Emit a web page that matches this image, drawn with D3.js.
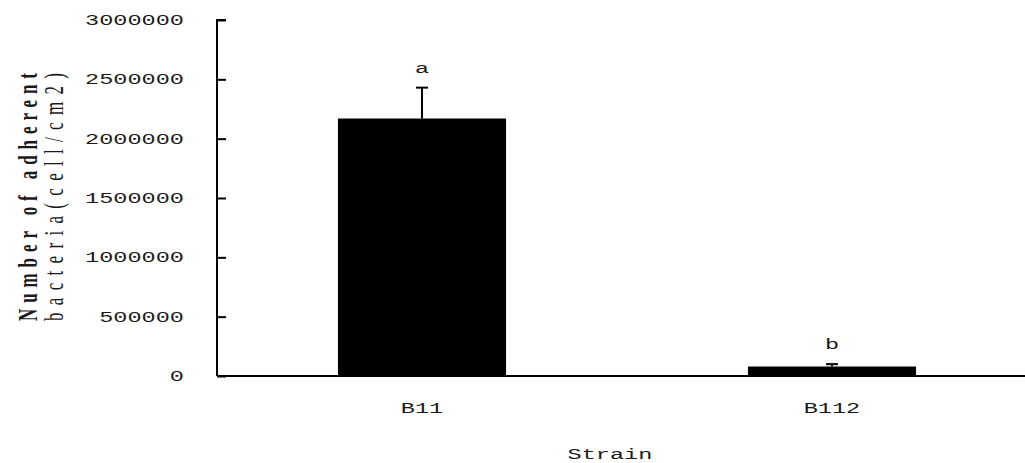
<!DOCTYPE html>
<html>
<head>
<meta charset="utf-8">
<script src="https://cdn.jsdelivr.net/npm/d3@7"></script>
<style>
  html, body { margin: 0; padding: 0; background: #fff; }
  svg { display: block; }
  .mono { font-family: "Liberation Mono", "DejaVu Sans Mono", monospace; fill: #1a1a1a; }
  .serif { font-family: "Liberation Serif", "DejaVu Serif", serif; fill: #1a1a1a; }
</style>
</head>
<body>
<svg id="chart" width="1025" height="463"></svg>
<script>
// Adherent bacteria counts per strain (mean and error)
const strains = ["B11", "B112"];
const means = [2170000, 80000];
const errors = [260000, 20000];
const letters = ["a", "b"];
const yTicks = [0, 500000, 1000000, 1500000, 2000000, 2500000, 3000000];
const yTitle = ["Number of adherent", "bacteria(cell/cm2)"];
const xTitle = "Strain";

const svg = d3.select("#chart");
const sx = 1.57; // horizontal stretch of the text glyphs

const x = d3.scaleBand().domain(strains).range([217, 1037]).paddingInner(0.59).paddingOuter(0.295);
const y = d3.scaleLinear().domain([0, 3000000]).range([376, 20]);

// Bars
svg.selectAll("rect.bar").data(strains).join("rect")
  .attr("class", "bar")
  .attr("x", d => x(d))
  .attr("width", x.bandwidth())
  .attr("y", (d, i) => y(means[i]))
  .attr("height", (d, i) => y(0) - y(means[i]))
  .attr("fill", "#000");

// Error bars (upper only)
const eb = svg.selectAll("g.err").data(strains).join("g").attr("class", "err");
eb.append("line")
  .attr("x1", d => x(d) + x.bandwidth() / 2).attr("x2", d => x(d) + x.bandwidth() / 2)
  .attr("y1", (d, i) => y(means[i])).attr("y2", (d, i) => y(means[i] + errors[i]))
  .attr("stroke", "#000").attr("stroke-width", 2);
eb.append("line")
  .attr("x1", d => x(d) + x.bandwidth() / 2 - 6).attr("x2", d => x(d) + x.bandwidth() / 2 + 6)
  .attr("y1", (d, i) => y(means[i] + errors[i])).attr("y2", (d, i) => y(means[i] + errors[i]))
  .attr("stroke", "#000").attr("stroke-width", 2);

// Significance letters
svg.selectAll("text.sig").data(strains).join("text")
  .attr("class", "sig mono")
  .attr("font-size", 15)
  .attr("text-anchor", "middle")
  .attr("transform", (d, i) => `translate(${x(d) + x.bandwidth() / 2},${y(means[i] + errors[i]) - 15}) scale(${sx},1)`)
  .text((d, i) => letters[i]);

// Y axis: ticks point inward
const yAxis = d3.axisRight(y).tickValues(yTicks).tickSize(9).tickFormat("");
const gy = svg.append("g").attr("transform", "translate(217,0)").call(yAxis);
gy.select(".domain").attr("stroke", "#000").attr("stroke-width", 2).attr("d", `M9,${y(3000000)}H0V${y(0)}`);
gy.selectAll(".tick line").attr("stroke", "#000").attr("stroke-width", 2);

// Y tick labels
svg.selectAll("text.ytick").data(yTicks).join("text")
  .attr("class", "ytick mono")
  .attr("font-size", 15)
  .attr("text-anchor", "end")
  .attr("dominant-baseline", "middle")
  .attr("transform", d => `translate(184,${y(d) + 1}) scale(${sx},1)`)
  .text(d => d3.format("d")(d));

// X axis baseline
svg.append("line")
  .attr("x1", 217).attr("x2", 1025).attr("y1", y(0)).attr("y2", y(0))
  .attr("stroke", "#000").attr("stroke-width", 2);

// Category labels
svg.selectAll("text.xcat").data(strains).join("text")
  .attr("class", "xcat mono")
  .attr("font-size", 15)
  .attr("text-anchor", "middle")
  .attr("transform", d => `translate(${x(d) + x.bandwidth() / 2},413) scale(${sx},1)`)
  .text(d => d);

// X title
svg.append("text")
  .attr("class", "mono")
  .attr("font-size", 15)
  .attr("text-anchor", "middle")
  .attr("transform", `translate(610,459) scale(${sx},1)`)
  .text(xTitle);

// Y title (two rotated lines)
const titleX = [37, 63];
yTitle.forEach((t, i) => {
  svg.append("text")
    .attr("class", "serif")
    .attr("font-size", 17)
    .attr("font-weight", i === 0 ? "bold" : "normal")
    .attr("text-anchor", "middle")
    .attr("textLength", 248)
    .attr("lengthAdjust", "spacing")
    .attr("transform", `translate(${titleX[i]},197) scale(${sx},1) rotate(-90)`)
    .text(t);
});
</script>
</body>
</html>
